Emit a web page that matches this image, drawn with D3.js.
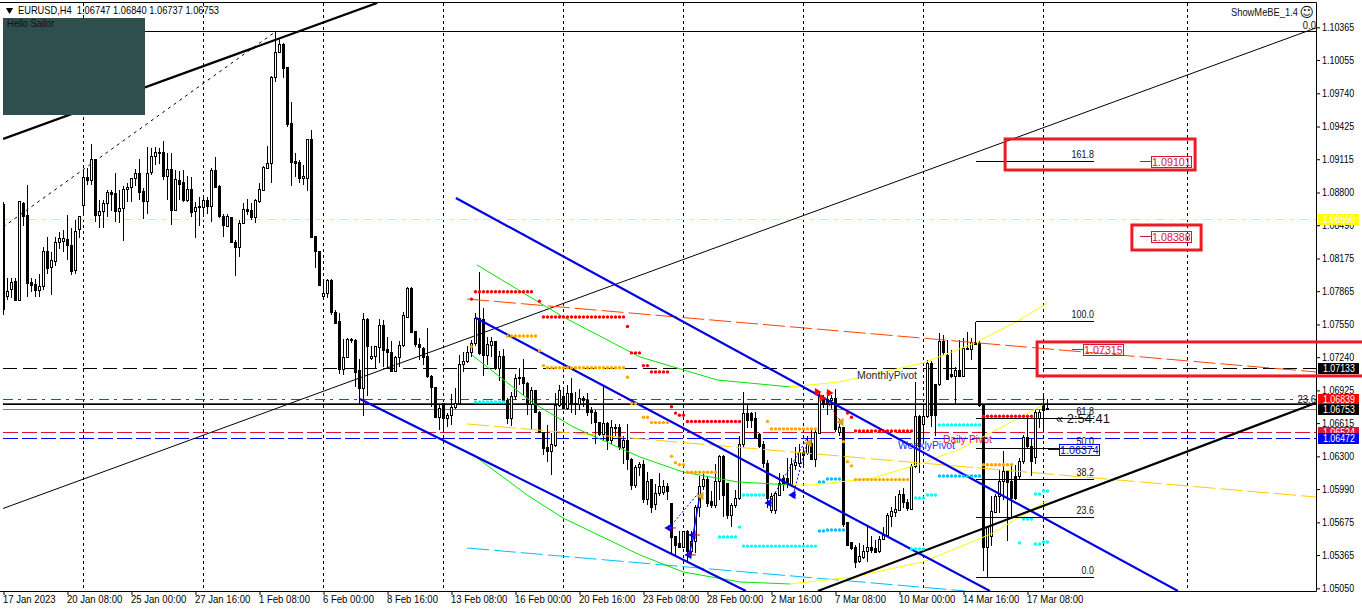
<!DOCTYPE html>
<html><head><meta charset="utf-8">
<script src="https://cdn.jsdelivr.net/npm/d3@7"></script>
<style>html,body{margin:0;padding:0;background:#fff;overflow:hidden}svg{display:block}text{font-family:"Liberation Sans",Arial,sans-serif}</style>
</head><body><div id="c"></div>
<script>
// EURUSD H4 candles, prices in pips (10675 = 1.0675)
const opens=[10869,10781,10788,10796,10778,10870,10858,10795,10793,10787,10791,10824,10809,10815,10833,10834,10835,10830,10806,10845,10868,10894,10891,10911,10858,10862,10870,10880,10879,10862,10865,10883,10885,10893,10898,10881,10871,10899,10914,10917,10918,10895,10902,10863,10891,10889,10872,10883,10862,10866,10866,10872,10867,10901,10886,10857,10848,10856,10833,10828,10851,10864,10863,10856,10871,10882,10903,10907,10989,11013,11020,10998,10945,10909,10908,10893,10893,10930,10838,10824,10781,10784,10797,10766,10758,10712,10724,10741,10740,10711,10694,10760,10723,10725,10733,10754,10731,10728,10710,10724,10735,10762,10789,10748,10736,10732,10725,10706,10695,10667,10680,10666,10669,10676,10680,10717,10720,10728,10737,10761,10760,10726,10735,10739,10713,10725,10683,10666,10687,10705,10705,10699,10679,10692,10672,10653,10638,10635,10640,10678,10687,10675,10690,10679,10679,10685,10683,10673,10672,10662,10651,10661,10645,10657,10657,10638,10645,10627,10602,10619,10622,10589,10608,10584,10595,10596,10601,10585,10554,10547,10544,10559,10540,10549,10582,10601,10608,10587,10583,10606,10630,10604,10574,10583,10590,10641,10671,10671,10666,10651,10641,10623,10579,10579,10593,10609,10609,10603,10621,10623,10634,10633,10642,10627,10652,10686,10684,10683,10685,10653,10657,10567,10548,10544,10530,10534,10540,10544,10543,10540,10551,10555,10573,10577,10579,10594,10586,10580,10620,10668,10660,10668,10718,10698,10698,10739,10726,10708,10706,10711,10706,10731,10731,10738,10737,10678,10544,10554,10577,10592,10606,10616,10606,10611,10611,10625,10648,10639,10629,10666,10679,10674.7];
const highs=[10871,10799,10799,10799,10871,10871,10887,10799,10798,10803,10828,10838,10824,10838,10843,10844,10859,10846,10854,10858,10901,10903,10926,10912,10873,10873,10882,10882,10898,10882,10886,10889,10893,10902,10912,10884,10923,10922,10923,10922,10929,10917,10917,10901,10900,10901,10896,10895,10871,10876,10876,10876,10903,10914,10887,10860,10860,10857,10835,10854,10870,10874,10870,10874,10889,10905,10924,10990,11032,11025,11022,10998,10966,10917,10911,10906,10931,10939,10839,10824,10798,10798,10798,10769,10766,10741,10742,10742,10741,10722,10766,10761,10735,10735,10760,10759,10743,10739,10725,10739,10767,10790,10790,10748,10742,10734,10752,10707,10695,10679,10681,10671,10689,10695,10726,10729,10735,10740,10766,10805,10771,10743,10743,10739,10730,10732,10685,10691,10708,10714,10722,10700,10696,10692,10673,10653,10660,10652,10690,10698,10693,10698,10704,10691,10694,10687,10690,10677,10674,10663,10696,10663,10664,10661,10661,10649,10661,10628,10622,10625,10627,10615,10608,10604,10614,10608,10605,10586,10555,10559,10559,10560,10559,10584,10611,10615,10611,10597,10623,10631,10631,10605,10586,10598,10649,10691,10680,10672,10672,10652,10645,10627,10595,10596,10614,10612,10628,10628,10639,10642,10639,10649,10657,10657,10690,10688,10687,10688,10694,10665,10658,10567,10548,10546,10548,10546,10565,10555,10551,10555,10563,10576,10582,10592,10598,10600,10590,10623,10700,10669,10680,10721,10720,10699,10747,10745,10740,10731,10715,10740,10742,10748,10742,10748,10739,10679,10563,10592,10594,10617,10635,10617,10623,10622,10628,10650,10668,10647,10674,10674,10690,10684];
const lows=[10764,10778,10780,10777,10777,10848,10781,10786,10781,10781,10788,10803,10783,10810,10826,10824,10816,10802,10803,10837,10859,10887,10887,10852,10846,10846,10857,10862,10852,10851,10834,10871,10871,10886,10873,10855,10860,10897,10906,10907,10892,10873,10849,10862,10873,10871,10871,10857,10837,10848,10857,10860,10852,10885,10856,10838,10848,10832,10801,10819,10850,10859,10854,10851,10870,10881,10902,10889,10985,11012,10988,10942,10886,10895,10889,10887,10881,10837,10808,10791,10778,10780,10764,10755,10708,10707,10723,10737,10696,10679,10668,10687,10721,10713,10718,10715,10713,10710,10710,10715,10734,10762,10747,10734,10721,10717,10704,10677,10666,10655,10654,10658,10660,10675,10679,10710,10718,10724,10735,10726,10706,10717,10724,10712,10701,10682,10661,10659,10683,10698,10687,10669,10655,10671,10652,10631,10625,10612,10639,10677,10675,10674,10671,10669,10674,10677,10668,10661,10642,10649,10645,10636,10642,10649,10636,10623,10617,10598,10600,10611,10586,10584,10576,10579,10592,10593,10589,10537,10537,10543,10543,10530,10537,10538,10573,10598,10582,10581,10581,10589,10573,10571,10563,10581,10589,10639,10657,10657,10646,10638,10619,10581,10576,10575,10592,10597,10600,10601,10617,10620,10622,10631,10627,10620,10652,10676,10669,10676,10653,10649,10563,10546,10541,10524,10529,10533,10530,10538,10538,10538,10551,10555,10563,10573,10578,10581,10578,10579,10619,10614,10642,10666,10658,10649,10697,10726,10702,10704,10680,10706,10705,10731,10721,10736,10677,10521,10516,10545,10576,10576,10589,10550,10573,10589,10608,10623,10638,10611,10623,10657,10655,10673.7];
const closes=[10769,10786,10795,10778,10871,10857,10794,10792,10787,10791,10824,10808,10816,10833,10836,10836,10830,10805,10843,10857,10894,10891,10911,10858,10862,10870,10880,10878,10862,10865,10883,10885,10893,10898,10880,10871,10898,10914,10918,10918,10895,10902,10863,10892,10888,10872,10883,10861,10866,10867,10872,10867,10901,10885,10857,10849,10857,10833,10828,10851,10864,10862,10856,10872,10883,10904,10907,10989,11013,11020,10997,10944,10908,10907,10893,10895,10930,10837,10824,10792,10784,10797,10766,10756,10712,10724,10741,10740,10709,10694,10760,10734,10725,10734,10754,10730,10728,10710,10724,10735,10763,10789,10747,10736,10733,10724,10706,10695,10667,10675,10666,10669,10676,10680,10717,10720,10728,10737,10761,10727,10726,10736,10739,10713,10725,10683,10666,10687,10704,10704,10699,10679,10692,10672,10653,10637,10635,10641,10678,10692,10675,10690,10679,10680,10685,10683,10672,10672,10662,10651,10661,10645,10657,10657,10638,10645,10627,10602,10619,10622,10589,10606,10582,10595,10601,10601,10597,10553,10546,10544,10559,10540,10549,10582,10601,10608,10585,10583,10606,10630,10593,10574,10583,10590,10641,10671,10664,10664,10647,10639,10623,10590,10592,10595,10604,10603,10605,10622,10624,10634,10631,10642,10627,10653,10687,10679,10680,10685,10655,10657,10565,10546,10543,10529,10535,10540,10544,10541,10539,10551,10555,10574,10578,10580,10594,10586,10581,10620,10668,10639,10668,10718,10669,10669,10739,10728,10703,10706,10711,10706,10732,10732,10738,10736,10678,10544,10563,10578,10592,10606,10616,10605,10590,10590,10625,10648,10639,10625,10672,10672,10673,10675.3];

const priceTicks=[1.10365,1.10055,1.09740,1.09425,1.09115,1.08800,1.08490,1.08175,1.07865,1.07550,1.07240,1.06925,1.06615,1.06300,1.05990,1.05675,1.05365,1.05050];
const timeLabels=["17 Jan 2023","20 Jan 08:00","25 Jan 00:00","27 Jan 16:00","1 Feb 08:00","6 Feb 00:00","8 Feb 16:00","13 Feb 08:00","16 Feb 00:00","20 Feb 16:00","23 Feb 08:00","28 Feb 00:00","2 Mar 16:00","7 Mar 08:00","10 Mar 00:00","14 Mar 16:00","17 Mar 08:00"];
const separatorBars=[20,50,80,110,140,170,200,230,260,296];

// straight trend lines: [[bar,pips],[bar,pips]]
const thickUpper=[[-0.1,10930.7],[93.4,11059.6]];
const thinDiagonal=[[-0.4,10580.2],[328.1,11035.9]];
const dashedDiagonal=[[-0.1,10847.3],[67.9,11032.1]];
const blueA=[[113.1,10874.8],[293.6,10502.5]];
const blueB=[[118.1,10761.1],[246.6,10502.5]];
const blueC=[[89.1,10684.4],[185.6,10502.5]];
const thickRising=[[203.6,10502.5],[328.1,10680.6]];
const orangeChannel=[[115.9,10779.1],[328.1,10710.0]];
const goldChannel=[[115.9,10660.7],[328.1,10591.5]];
const skyChannel=[[115.9,10543.2],[240.4,10502.5]];
// regression curves
const greenUpper=[[118.4,10811.3],[124.6,10797.1],[139.9,10762.1],[159.1,10724.2],[178.4,10702.4],[196.6,10695.8]];
const yellowUpper=[[196.6,10695.8],[209.1,10700.5],[229.9,10718.5],[242.9,10737.4],[254.1,10759.2],[260.9,10775.3]];
const greenMid=[[117.1,10726.1],[132.4,10680.6],[142.4,10657.9],[159.1,10629.4],[169.9,10615.2],[183.4,10605.8],[196.6,10602.9]];
const yellowMid=[[196.6,10602.9],[202.4,10602.9],[217.4,10609.5],[229.9,10623.8],[239.1,10637.0],[249.1,10656.9],[259.9,10678.7]];
const greenLow=[[117.1,10632.3],[130.9,10593.4],[139.9,10571.6],[159.1,10536.6],[169.9,10520.5],[184.1,10511],[196.6,10509.1]];
const yellowLow=[[196.6,10509.1],[212.4,10515.7],[229.9,10530],[239.1,10544.2],[247.4,10557.4],[259.9,10585.9],[260.9,10587.8]];

// dotted levels: [firstBar,lastBar,pips]
const redDots=[[118,132,10786],[117,117,10779],[134,134,10777],[135,135,10762],[136,155,10762],[156,156,10753],[157,159,10728],[160,161,10716],[162,166,10710],[167,167,10677],[168,168,10671],[169,170,10669],[171,184,10663],[211,211,10671],[212,212,10667],[213,227,10654],[245,257,10668]];
const orangeDots=[[117,117,10734],[126,133,10744],[134,134,10730],[135,135,10716],[136,155,10714],[156,156,10705],[157,158,10680],[160,161,10667],[162,166,10662],[167,167,10630],[168,168,10624],[169,170,10622],[171,178,10615],[191,191,10663],[192,203,10656],[210,210,10644],[211,211,10625],[212,212,10621],[213,226,10608],[245,252,10622]];
const cyanDots=[[118,125,10681.5],[185,190,10593.4],[184,184,10563],[179,183,10553.6],[185,203,10545],[227,230,10542.3],[228,230,10590.6],[231,233,10593.4],[234,244,10659.7],[258,259,10594.4],[260,261,10597.2],[254,254,10548],[258,259,10547],[260,261,10548.9],[255,257,10570.7]];
const skyDots=[[204,205,10605.8],[206,209,10608.6],[204,205,10559.3],[206,210,10560.3],[234,244,10611.4]];

// signal markers: [bar,pips]
const blueMarks=[[166.4,10562.2],[172.4,10555.5],[171.4,10536.6],[191.4,10585.9],[197.4,10593.4]];
const tickedMarks=[[166.4,10562.2],[172.4,10555.5],[171.4,10536.6]];
const redMarks=[[203.4,10691],[206.4,10690.1],[204.6,10685.3]];
const goldMarks=[[174.4,10592.5],[201.4,10642.7],[209.4,10662.6]];
const blueDotted=[[[166.4,10562.2],[174.4,10598.2]],[[191.4,10585.9],[201.1,10648.4]],[[197.4,10593.4],[201.1,10645.6]]];
const blueSolid=[[[172.4,10555.5],[174.1,10593.4]],[[171.4,10536.6],[172.6,10555.5]]];
const redDotted=[[[204.6,10688.2],[209.4,10662.6]]];

// horizontal price levels: [pips,colour,dash,width]
const levels=[[10855.0,"#ffff00","10,5,3,6",1],[10713.3,"#000","14,6",1],[10683.9,"#ff0000","10,5,3,6",1],[10680.1,"#ff0000",null,1],[10679.2,"#000",null,1],[10675.3,"#808080",null,1],[10652.8,"#dc143c","15,4",1],[10647.2,"#0000ff","15,4",1]];
const priceTags=[["1.08550","#ffff00",10855.0],["1.07133","#000",10713.3],["1.06839","#ff0000",10683.9],["1.06753","#000",10675.3],["1.06524","#dc143c",10652.8],["1.06472","#0000ff",10647.2]];

// fibonacci retracement: [pct,pips]
const fibLevels=[["161.8",10910.2],["100.0",10758.6],["61.8",10666.4],["50.0",10638],["38.2",10608.6],["23.6",10572.6],["0.0",10515.8]];
const fibStart=244, fibEnd=272.6;

// target boxes: [bar,bar,pips,pips]
const redBoxes=[[250.4,297.9,10930.7,10901.3],[282.1,299.4,10849.2,10825.5],[258.4,345,10738.4,10706.2]];
// projected price tags: [text,colour,bar,pips]
const targetTags=[["1.09101","#dc143c",286.9,10909.9],["1.08388","#dc143c",286.9,10838.8],["1.07315","#dc143c",269.9,10731.5],["1.06374","#0000ff",263.9,10637.0]];

const W=1362,H=612,plotR=1316,plotB=591;
const x=d3.scaleLinear().domain([0,261]).range([3.5,1047.5]);
const yScale=d3.scaleLinear().domain([1.10365,1.0505]).range([27.3,588.3]);
const y=p=>yScale(p/1e4);
const row=p=>Math.round(y(p))+.5;
const svg=d3.select("#c").append("svg").attr("width",W).attr("height",H);
svg.append("defs").append("clipPath").attr("id","plot").append("rect").attr("x",3).attr("y",3).attr("width",plotR-3).attr("height",plotB-3);
const g=svg.append("g").attr("clip-path","url(#plot)");
const line=d3.line().x(d=>x(d[0])).y(d=>y(d[1]));
const path=(parent,d,col,w,dash)=>parent.append("path").attr("d",line(d)).attr("fill","none").attr("stroke",col).attr("stroke-width",w).attr("stroke-dasharray",dash||null);
const squeeze=(sel,f)=>sel.each(function(){const L=this.getComputedTextLength();d3.select(this).attr("textLength",L*f).attr("lengthAdjust","spacingAndGlyphs")});

// period separators
g.selectAll(".sep").data(separatorBars).join("line").attr("x1",d=>x(d)).attr("x2",d=>x(d)).attr("y1",3).attr("y2",plotB).attr("stroke","#000").attr("stroke-dasharray","3,3").attr("shape-rendering","crispEdges");
// levels
g.selectAll(".lvl").data(levels).join("line").attr("x1",3).attr("x2",plotR).attr("y1",d=>row(d[0])).attr("y2",d=>row(d[0])).attr("stroke",d=>d[1]).attr("stroke-dasharray",d=>d[2]).attr("stroke-width",d=>d[3]).attr("shape-rendering","crispEdges");
// fib high line
g.append("line").attr("x1",3).attr("x2",plotR).attr("y1",row(11032.7)).attr("y2",row(11032.7)).attr("stroke","#000").attr("shape-rendering","crispEdges");
path(g,thinDiagonal,"#000",1);
path(g,dashedDiagonal,"#000",1,"3,4");
path(g,thickUpper,"#000",2.2);

// candles
const idx=d3.range(opens.length);
const cg=g.append("g").attr("shape-rendering","crispEdges");
cg.selectAll("line").data(idx).join("line").attr("x1",i=>x(i)).attr("x2",i=>x(i)).attr("y1",i=>y(highs[i])).attr("y2",i=>y(lows[i])).attr("stroke","#000");
cg.selectAll("rect").data(idx).join("rect")
  .attr("x",i=>x(i)-1).attr("width",2)
  .attr("y",i=>y(Math.max(opens[i],closes[i])))
  .attr("height",i=>Math.max(1,Math.abs(y(opens[i])-y(closes[i]))))
  .attr("fill",i=>closes[i]>=opens[i]?"#fff":"#000").attr("stroke","#000");

// curves and channels
path(g,orangeChannel,"#ff4500",1,"22,5");
path(g,goldChannel,"#ffcc00",1,"22,5");
path(g,skyChannel,"#00bfff",1,"22,5");
[greenUpper,greenMid,greenLow].forEach(d=>path(g,d,"#00e600",1));
[yellowUpper,yellowMid,yellowLow].forEach(d=>path(g,d,"#ffff00",1));
[blueA,blueB,blueC].forEach(d=>path(g,d,"#0000e0",2.2));
path(g,thickRising,"#000",2.2);

// dots
const expand=rows=>rows.flatMap(r=>d3.range(r[0],r[1]+1).map(b=>[b,r[2]]));
[[redDots,"#ff0000"],[orangeDots,"#ffa500"],[cyanDots,"#00ffff"],[skyDots,"#00bfff"]].forEach(([rows,c])=>{
  g.append("g").selectAll("circle").data(expand(rows)).join("circle").attr("cx",d=>x(d[0])).attr("cy",d=>y(d[1])).attr("r",1.7).attr("fill",c);
});

// signals
blueDotted.forEach(d=>path(g,d,"#0000ff",1,"2,2"));
blueSolid.forEach(d=>path(g,d,"#0000ff",1.4));
redDotted.forEach(d=>path(g,d,"#ff0000",1,"2,2"));
const sym=(data,type,size,col,rot)=>g.append("g").selectAll("path").data(data).join("path").attr("d",d3.symbol().type(type).size(size)()).attr("transform",d=>`translate(${x(d[0])},${y(d[1])}) rotate(${rot||0})`).attr("fill",col);
sym(blueMarks,d3.symbolTriangle,30,"#0000ff",-90);
sym(blueMarks,d3.symbolCross,14,"#0000ff");
sym(redMarks,d3.symbolTriangle,26,"#ff0000",90);
sym(redMarks,d3.symbolCross,14,"#ff0000");
sym(goldMarks,d3.symbolTriangle,32,"#daa520",-90);
g.append("g").selectAll("line").data(tickedMarks).join("line").attr("x1",d=>x(d[0])).attr("x2",d=>x(d[0])+7).attr("y1",d=>y(d[1])).attr("y2",d=>y(d[1])).attr("stroke","#ff0000");

// fibonacci lines + labels
const fg=g.append("g");
fg.selectAll("line").data(fibLevels).join("line").attr("x1",x(fibStart)-4).attr("x2",x(fibEnd)).attr("y1",d=>row(d[1])).attr("y2",d=>row(d[1])).attr("stroke","#000").attr("shape-rendering","crispEdges");
fg.append("line").attr("x1",x(fibStart)-4).attr("x2",x(fibStart)-4).attr("y1",row(10758.6)).attr("y2",row(10737)).attr("stroke","#000").attr("shape-rendering","crispEdges");
const fibTxt=fg.selectAll("text").data(fibLevels).join("text").attr("x",x(fibEnd)).attr("y",d=>y(d[1])-3).attr("text-anchor","end").attr("font-size",10.5).attr("fill","#111").text(d=>d[0]);
squeeze(fibTxt,0.85);
const fibExtra=g.append("g");
fibExtra.append("text").attr("x",1316).attr("y",29).attr("text-anchor","end").attr("font-size",10.5).attr("fill","#111").text("0.0");
fibExtra.append("text").attr("x",1316).attr("y",402.5).attr("text-anchor","end").attr("font-size",10.5).attr("fill","#111").text("23.6");
squeeze(fibExtra.selectAll("text"),0.9);

// pivots
const txt=(s,xx,yy,size,col,len)=>{const t=svg.append("text").attr("x",xx).attr("y",yy).attr("font-size",size).attr("fill",col).text(s);if(len)t.attr("textLength",len).attr("lengthAdjust","spacingAndGlyphs");return t;};
txt("MonthlyPivot",857,379,11,"#1c2a3a",60);
txt("WeeklyPivot",898,449,11,"#2a2aff",57);
txt("Daily Pivot",943,443,11,"#dc143c",49);
txt("\u00ab 2:54:41",1056,423,13.5,"#111",54);

// axes
const ax=svg.append("g").attr("transform",`translate(${plotR},0)`).call(d3.axisRight(yScale).tickValues(priceTicks).tickSize(4).tickPadding(2).tickFormat(d3.format(".5f")));
ax.select(".domain").remove();
ax.selectAll("text").attr("font-size",10.5).attr("font-family",null).attr("fill","#000");
squeeze(ax.selectAll("text"),0.85);
const timeBars=timeLabels.map((_,k)=>k*16);
const bx=svg.append("g").attr("transform",`translate(0,${plotB})`).call(d3.axisBottom(x).tickValues(timeBars).tickSize(4).tickPadding(1).tickFormat((_,k)=>timeLabels[k]));
bx.select(".domain").remove();
bx.selectAll("text").attr("text-anchor","start").attr("dx",-1).attr("font-size",10.5).attr("font-family",null).attr("fill","#000");
squeeze(bx.selectAll("text"),0.91);
// frame
svg.append("path").attr("d",`M0,2.5H${plotR+.5}V${plotB+.5}H0`).attr("fill","none").attr("stroke","#000");

// target tags
targetTags.forEach(([s,c,b,p])=>{
  const cx=x(b),cy=Math.round(y(p))+.5;
  svg.append("line").attr("x1",cx-11).attr("x2",cx).attr("y1",cy).attr("y2",cy).attr("stroke",c).attr("shape-rendering","crispEdges");
  svg.append("rect").attr("x",cx).attr("y",cy-5.5).attr("width",40).attr("height",11).attr("fill","none").attr("stroke",c).attr("shape-rendering","crispEdges");
  const t=svg.append("text").attr("x",cx+1).attr("y",cy+4).attr("font-size",11.5).attr("fill",c).text(s);
  squeeze(t,0.93);
});

// price tags
const tags=svg.append("g").selectAll("g").data(priceTags).join("g").attr("transform",d=>`translate(1318,${Math.round(y(d[2]))-5})`);
tags.append("rect").attr("width",41).attr("height",11).attr("fill",d=>d[1]);
const tagTxt=tags.append("text").attr("x",5).attr("y",9).attr("font-size",10.5).attr("fill","#fff").text(d=>d[0]);
squeeze(tagTxt,0.84);

// red rectangles
svg.selectAll(".rb").data(redBoxes).join("rect").attr("x",d=>x(d[0])).attr("width",d=>x(d[1])-x(d[0])).attr("y",d=>y(d[2])).attr("height",d=>y(d[3])-y(d[2])).attr("fill","none").attr("stroke","#ed1c24").attr("stroke-width",3);

// header
svg.append("path").attr("d",d3.symbol().type(d3.symbolTriangle).size(22)()).attr("transform","translate(9.5,10) rotate(180)").attr("fill","#000");
txt("EURUSD,H4  1.06747 1.06840 1.06737 1.06753",18,14,11,"#000",201).style("white-space","pre");
svg.append("rect").attr("x",3).attr("y",18).attr("width",142).attr("height",97).attr("fill","#2f4f4f");
txt("Hello Sailor",7,27,10.5,"#111",47);
txt("ShowMeBE_1.4",1231,16,10.5,"#111",67);
txt("\u263a",1299.5,17,14,"#111").style("font-family","DejaVu Sans");
</script></body></html>
